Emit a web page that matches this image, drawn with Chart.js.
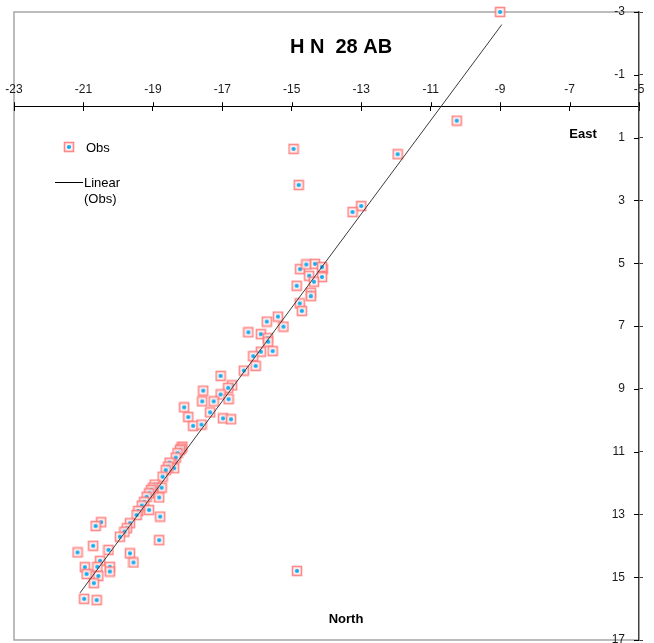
<!DOCTYPE html>
<html>
<head>
<meta charset="utf-8">
<script src="https://cdn.jsdelivr.net/npm/chart.js@4.4.0/dist/chart.umd.min.js"></script>
<style>
html, body { margin: 0; padding: 0; background: #fff; overflow: hidden; }
#wrap { position: relative; width: 654px; height: 647px; }
</style>
</head>
<body>
<div id="wrap"><canvas id="myChart"></canvas></div>
<script>
// observed points (East, North)
var obsX = [-9.0, -10.25, -14.95, -11.95, -14.8, -13.0, -13.25,
  -14.76, -14.58, -14.33, -14.11, -14.13, -14.5, -14.13, -14.36, -14.86, -14.45, -14.45, -14.77, -14.71,
  -15.4, -15.24, -15.72, -16.25, -15.89, -15.69, -15.68, -15.55, -15.89, -16.11, -16.04, -16.38,
  -17.05, -16.72, -16.83, -17.55, -17.05, -16.82, -17.25, -17.58, -18.1, -17.35, -17.98, -16.98, -16.75, -17.84, -17.6,
  -18.15, -18.18, -18.22, -18.29, -18.34, -18.46, -18.52, -18.39, -18.56, -18.63, -18.72, -18.95, -18.75, -18.99, -19.0,
  -19.05, -19.11, -18.82, -19.18, -19.25, -19.32, -19.11, -19.42, -19.47, -18.79,
  -19.66, -19.75, -19.82, -19.95, -20.49, -20.65, -20.72, -21.17, -20.28, -19.66, -19.56, -18.82,
  -20.96, -20.52, -20.6, -20.24, -20.24, -20.91, -20.57, -20.7, -20.98, -20.62, -14.85];
var obsY = [-3.0, 0.46, 1.36, 1.53, 2.51, 3.18, 3.37,
  5.19, 5.04, 5.02, 5.19, 5.12, 5.4, 5.44, 5.59, 5.72, 5.94, 6.05, 6.28, 6.52,
  6.7, 7.02, 6.86, 7.2, 7.26, 7.39, 7.5, 7.8, 7.82, 7.96, 8.27, 8.42,
  8.59, 8.89, 8.97, 9.06, 9.18, 9.33, 9.4, 9.4, 9.59, 9.75, 9.9, 9.94, 9.97, 10.18, 10.14,
  10.84, 10.9, 10.95, 11.05, 11.19, 11.4, 11.35, 11.53, 11.48, 11.59, 11.8, 12.05, 12.15, 12.15, 12.3,
  12.22, 12.33, 12.46, 12.44, 12.6, 12.72, 12.86, 12.89, 13.02, 13.07,
  13.28, 13.44, 13.55, 13.71, 13.25, 13.37, 14.0, 14.21, 14.13, 14.24, 14.53, 13.82,
  14.68, 14.48, 14.67, 14.67, 14.82, 14.9, 14.96, 15.19, 15.69, 15.73, 14.8];

// linear trend line ends
var trendX = [-21.1, -8.95];
var trendY = [15.5, -2.6];

var xTicks = [-23, -21, -19, -17, -15, -13, -11, -9, -7, -5];
var yTicks = [-3, -1, 1, 3, 5, 7, 9, 11, 13, 15, 17];

var obsPts = obsX.map(function (v, i) { return {x: v, y: obsY[i]}; });
var trendPts = trendX.map(function (v, i) { return {x: v, y: trendY[i]}; });

function makeMarker() {
  var c = document.createElement('canvas');
  c.width = 12; c.height = 12;
  var g = c.getContext('2d');
  g.fillStyle = 'rgba(255,236,236,0.85)';
  g.fillRect(1, 1, 10, 10);
  g.strokeStyle = 'rgba(255,95,95,0.72)';
  g.lineWidth = 1.6;
  g.strokeRect(1.5, 1.5, 9, 9);
  g.fillStyle = '#10aef0';
  g.beginPath(); g.arc(6, 6, 2.1, 0, Math.PI * 2); g.fill();
  return c;
}
var marker = makeMarker();

var FONT = '"Liberation Sans", Arial, sans-serif';

function noPad(s) {
  s.paddingLeft = 0; s.paddingRight = 0; s.paddingTop = 0; s.paddingBottom = 0;
}

var extras = {
  id: 'extras',
  beforeDraw: function (chart) {
    var a = chart.chartArea, c = chart.ctx;
    c.save();
    c.strokeStyle = '#a6a6a6';
    c.lineWidth = 1.5;
    c.beginPath();
    c.moveTo(a.right, a.top); c.lineTo(a.left, a.top);
    c.lineTo(a.left, a.bottom); c.lineTo(a.right, a.bottom);
    c.stroke();
    c.restore();
  },
  afterDraw: function (chart) {
    var c = chart.ctx, xs = chart.scales.x, ys = chart.scales.y;
    var x0 = ys.left, y0 = ys.getPixelForValue(0);
    c.save();
    // inner halves of the cross tick marks
    c.strokeStyle = '#000';
    c.lineWidth = 1;
    c.beginPath();
    xTicks.forEach(function (t) {
      var p = Math.round(xs.getPixelForValue(t)) + 0.5;
      c.moveTo(p, y0 - 4); c.lineTo(p, y0);
    });
    yTicks.forEach(function (t) {
      var p = Math.round(ys.getPixelForValue(t)) + 0.5;
      c.moveTo(x0 - 5, p); c.lineTo(x0, p);
    });
    c.stroke();

    c.fillStyle = '#000';
    c.textAlign = 'center';
    c.textBaseline = 'middle';
    c.font = 'bold 20px ' + FONT;
    c.fillText('H N  28 AB', 341, 47);
    c.font = 'bold 13px ' + FONT;
    c.fillText('East', 583, 134);
    c.fillText('North', 346, 619);

    // legend
    c.drawImage(marker, 63, 141);
    c.font = '13px ' + FONT;
    c.textAlign = 'left';
    c.fillText('Obs', 86, 148);
    c.beginPath();
    c.moveTo(55, 182.5); c.lineTo(83, 182.5);
    c.stroke();
    c.fillText('Linear', 84, 183);
    c.fillText('(Obs)', 84, 199);
    c.restore();
  }
};

var config = {
  type: 'scatter',
  data: {
    datasets: [{
      label: 'Linear (Obs)',
      data: trendPts,
      showLine: true,
      borderColor: '#3a3a3a',
      borderWidth: 1,
      pointRadius: 0,
      clip: false
    }, {
      label: 'Obs',
      data: obsPts,
      pointStyle: marker,
      pointRadius: 6,
      clip: false
    }]
  },
  options: {
    responsive: true,
    maintainAspectRatio: false,
    animation: false,
    layout: { padding: { left: 14, top: 12, right: 0, bottom: 3 } },
    plugins: { legend: { display: false }, tooltip: { enabled: false } },
    scales: {
      x: {
        type: 'linear',
        min: -23, max: -5,
        position: { y: 0 },
        afterBuildTicks: function (s) { s.ticks = xTicks.map(function (v) { return {value: v}; }); },
        afterFit: noPad,
        ticks: { mirror: true, padding: -13, color: '#1a1a1a', font: { family: FONT, size: 12 } },
        grid: { drawOnChartArea: false, tickLength: 4, color: '#000' },
        border: { display: true, color: '#000', width: 1 }
      },
      y: {
        type: 'linear',
        reverse: true,
        min: -3, max: 17,
        position: 'right',
        afterBuildTicks: function (s) { s.ticks = yTicks.map(function (v) { return {value: v}; }); },
        afterFit: function (s) { s.width = 15; noPad(s); },
        ticks: { mirror: true, padding: -14, color: '#1a1a1a', font: { family: FONT, size: 12 } },
        grid: { drawOnChartArea: false, tickLength: 4, color: '#404040' },
        border: { display: true, color: '#404040', width: 1.5 }
      }
    }
  },
  plugins: [extras]
};

var ctx = document.getElementById('myChart').getContext('2d');
var myChart = new Chart(ctx, config);
</script>
</body>
</html>
